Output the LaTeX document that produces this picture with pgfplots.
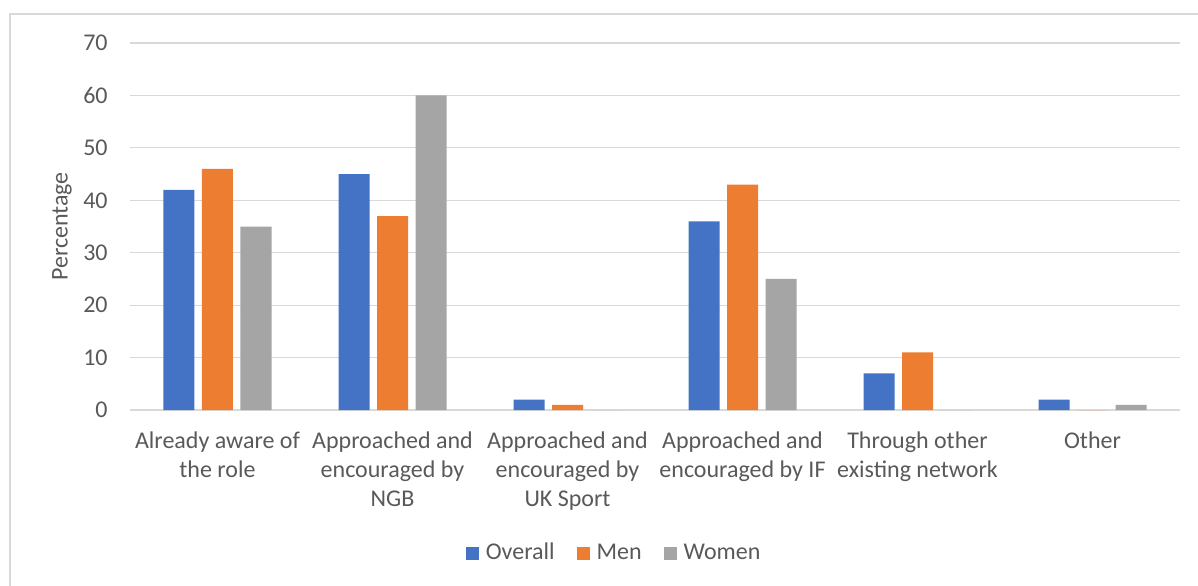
\documentclass[border=0pt]{standalone}
\usepackage{fontspec}
\setmainfont{Carlito}
\usepackage{pgfplots}
\pgfplotsset{compat=1.18}
\definecolor{cblue}{HTML}{4472C4}
\definecolor{corange}{HTML}{ED7D31}
\definecolor{cgray}{HTML}{A5A5A5}
\definecolor{gridgray}{HTML}{D9D9D9}
\definecolor{textgray}{HTML}{595959}
\begin{document}
\fontsize{12}{14.5}\selectfont
\begin{tikzpicture}
\draw[gridgray, line width=0.6pt] (-60pt,-120pt) -- (-60pt,198pt) -- (600pt,198pt);
\begin{axis}[
  name=ax, at={(0,0)}, anchor=south west,
  scale only axis, width=525pt, height=183.5pt,
  ymin=0, ymax=70, xmin=-0.5, xmax=5.5,
  ytick={0,10,...,70},
  xtick={0,...,5},
  xticklabels={{Already aware of\\the role},{Approached and\\encouraged by\\NGB},{Approached and\\encouraged by\\UK Sport},{Approached and\\encouraged by IF},{Through other\\existing network},{Other}},
  ybar=3.75pt, bar width=15.5pt,
  axis line style={draw=none},
  major tick length=0pt,
  ymajorgrids, grid style={gridgray, line width=0.6pt},
  /pgf/number format/assume math mode=true,
  tick label style={text=textgray, font=\fontsize{12}{14.5}\selectfont, inner sep=0pt},
  yticklabel style={xshift=-11pt},
  xticklabel style={align=center, yshift=-10.5pt},
  every axis y label/.style={at={(axis description cs:-0.0648,0.5)}, rotate=90, anchor=center, text=textgray, font=\fontsize{12}{14.5}\selectfont},
  ylabel={Percentage},
  legend style={at={(axis description cs:0.462,-0.39)}, anchor=center, legend columns=-1, draw=none, fill=none, text=textgray, font=\fontsize{12}{14.5}\selectfont, /tikz/every even column/.append style={column sep=9pt}, /tikz/every odd column/.append style={column sep=1.5pt}, inner sep=0pt},
  legend image code/.code={\fill[#1] (0pt,-3.25pt) rectangle (6.5pt,3.25pt);},
]
\addplot[fill=cblue, draw=none] coordinates {(0,42) (1,45) (2,2) (3,36) (4,7) (5,2)};
\addplot[fill=corange, draw=none] coordinates {(0,46) (1,37) (2,1) (3,43) (4,11) (5,0)};
\addplot[fill=cgray, draw=none] coordinates {(0,35) (1,60) (2,0) (3,25) (4,0) (5,1)};
\legend{Overall,Men,Women}
\end{axis}
\pgfresetboundingbox
\path[use as bounding box] (-65pt,-87.5pt) rectangle (534pt,205pt);
\end{tikzpicture}
\end{document}
